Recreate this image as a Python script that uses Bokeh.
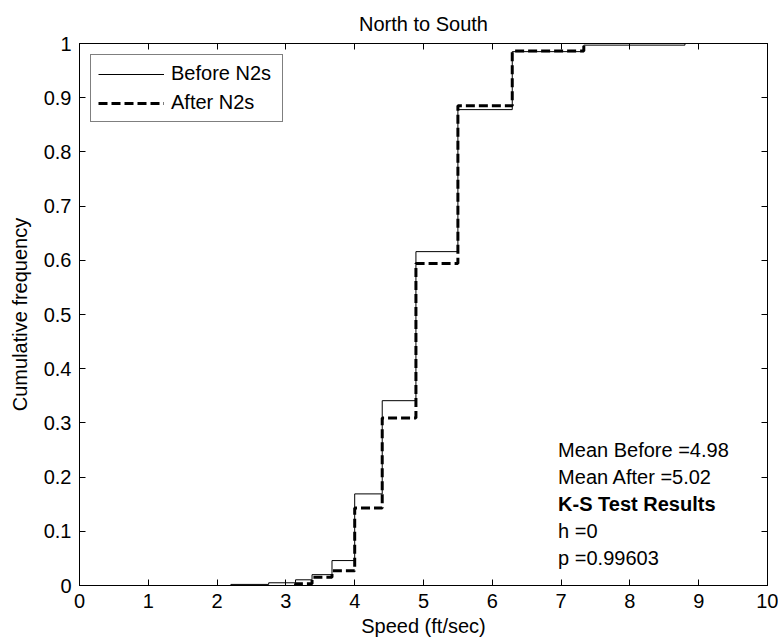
from bokeh.plotting import figure
from bokeh.models import (Range1d, FixedTicker, CustomJSTickFormatter, LinearAxis,
                          Legend, LegendItem, ColumnDataSource)
from bokeh.core.properties import value
from bokeh.embed import file_html
from bokeh.resources import INLINE

# ---- data ----
before_speed = [2.2, 2.75, 3.14, 3.38, 3.67, 4.0, 4.4, 4.89, 5.5, 6.29, 7.33, 8.8]
before_cdf   = [0.002, 0.005, 0.0105, 0.020, 0.046, 0.169, 0.341, 0.616, 0.878, 0.985, 0.997, 1.0]
after_speed  = [3.14, 3.38, 3.67, 4.0, 4.4, 4.89, 5.5, 6.29, 7.33]
after_cdf    = [0.003, 0.015, 0.027, 0.143, 0.309, 0.594, 0.885, 0.986, 1.0]

x_ticks = [0, 1, 2, 3, 4, 5, 6, 7, 8, 9, 10]
x_tick_labels = ["0", "1", "2", "3", "4", "5", "6", "7", "8", "9", "10"]
y_ticks = [0, 0.1, 0.2, 0.3, 0.4, 0.5, 0.6, 0.7, 0.8, 0.9, 1]
y_tick_labels = ["0", "0.1", "0.2", "0.3", "0.4", "0.5", "0.6", "0.7", "0.8", "0.9", "1"]

series_names = ["Before N2s", "After N2s"]
title_text = "North to South"
x_label = "Speed (ft/sec)"
y_label = "Cumulative frequency"
ann_lines = ["Mean Before =4.98", "Mean After =5.02", "K-S Test Results", "h =0", "p =0.99603"]
ann_bold = [False, False, True, False, False]
ann_x = 7.0
ann_y = [0.25, 0.2, 0.15, 0.1, 0.05]

FONT = "Liberation Sans"
FS = "20px"


def stairs(xs, fs):
    sx, sy = [], []
    prev = 0.0
    for x, f in zip(xs, fs):
        sx += [x, x]
        sy += [prev, f]
        prev = f
    return sx, sy


p = figure(width=778, height=644, output_backend="svg", toolbar_location=None,
           x_range=Range1d(0, 10), y_range=Range1d(0, 1),
           min_border_left=79, min_border_right=11, min_border_top=43, min_border_bottom=59)
p.background_fill_color = "white"
p.border_fill_color = "white"
p.outline_line_color = "black"
p.outline_line_width = 1
p.xgrid.visible = False
p.ygrid.visible = False

p.title.text = title_text
p.title.align = "center"
p.title.text_font = FONT
p.title.text_font_size = FS
p.title.text_font_style = "normal"
p.title.text_color = "black"
p.title.standoff = 17

def fmt(tvals, tlabs):
    return CustomJSTickFormatter(args=dict(tvals=tvals, tlabs=tlabs), code="""
        for (let i = 0; i < tvals.length; i++) {
            if (Math.abs(tvals[i] - tick) < 1e-9) return tlabs[i];
        }
        return '';
    """)

blank_fmt = CustomJSTickFormatter(code="return '';")

def style_axis(ax, show_labels=True):
    ax.axis_line_color = "black"
    ax.major_tick_line_color = "black"
    ax.major_tick_in = 6
    ax.major_tick_out = 0
    ax.minor_tick_line_color = None
    ax.major_label_text_font = FONT
    ax.major_label_text_font_size = FS if show_labels else "2px"
    ax.major_label_text_color = "black"
    ax.axis_label_text_font = FONT
    ax.axis_label_text_font_size = FS
    ax.axis_label_text_font_style = "normal"
    ax.axis_label_text_color = "black"

xax = p.xaxis[0]
xax.ticker = FixedTicker(ticks=x_ticks)
xax.formatter = fmt(x_ticks, x_tick_labels)
xax.axis_label = x_label
style_axis(xax)
xax.major_label_standoff = 8
xax.axis_label_standoff = 4

yax = p.yaxis[0]
yax.ticker = FixedTicker(ticks=y_ticks)
yax.formatter = fmt(y_ticks, y_tick_labels)
yax.axis_label = y_label
style_axis(yax)
yax.major_label_standoff = 8
yax.axis_label_standoff = 10

top_ax = LinearAxis(ticker=FixedTicker(ticks=x_ticks), formatter=blank_fmt)
style_axis(top_ax, show_labels=False)
top_ax.major_label_standoff = 0
p.add_layout(top_ax, "above")

right_ax = LinearAxis(ticker=FixedTicker(ticks=y_ticks), formatter=blank_fmt)
style_axis(right_ax, show_labels=False)
right_ax.major_label_standoff = 0
p.add_layout(right_ax, "right")

bx, by = stairs(before_speed, before_cdf)
ax_, ay = stairs(after_speed, after_cdf)
r_before = p.line(bx, by, line_color="black", line_width=1)
r_after = p.line(ax_, ay, line_color="black", line_width=3, line_dash="9 4")

legend = Legend(items=[LegendItem(label=series_names[0], renderers=[r_before]),
                       LegendItem(label=series_names[1], renderers=[r_after])],
                location="top_left")
legend.margin = 11
legend.padding = 7
legend.spacing = 6
legend.label_height = 22
legend.glyph_height = 22
legend.glyph_width = 66
legend.label_standoff = 7
legend.label_width = 104
legend.label_text_font = FONT
legend.label_text_font_size = FS
legend.label_text_color = "black"
legend.border_line_color = "black"
legend.border_line_width = 1
legend.background_fill_color = "white"
legend.background_fill_alpha = 1.0
p.add_layout(legend, "center")

normal_idx = [i for i, b in enumerate(ann_bold) if not b]
bold_idx = [i for i, b in enumerate(ann_bold) if b]
src_n = ColumnDataSource(dict(x=[ann_x] * len(normal_idx), y=[ann_y[i] for i in normal_idx],
                              t=[ann_lines[i] for i in normal_idx]))
src_b = ColumnDataSource(dict(x=[ann_x] * len(bold_idx), y=[ann_y[i] for i in bold_idx],
                              t=[ann_lines[i] for i in bold_idx]))
p.text(x="x", y="y", text="t", source=src_n, text_font=value(FONT), text_font_size=FS,
       text_baseline="middle", text_align="left", text_color="black", x_offset=-3)
p.text(x="x", y="y", text="t", source=src_b, text_font=value(FONT), text_font_size=FS,
       text_font_style="bold", text_baseline="middle", text_align="left", text_color="black",
       x_offset=-3)

open("out.html", "w").write(file_html(p, INLINE))
